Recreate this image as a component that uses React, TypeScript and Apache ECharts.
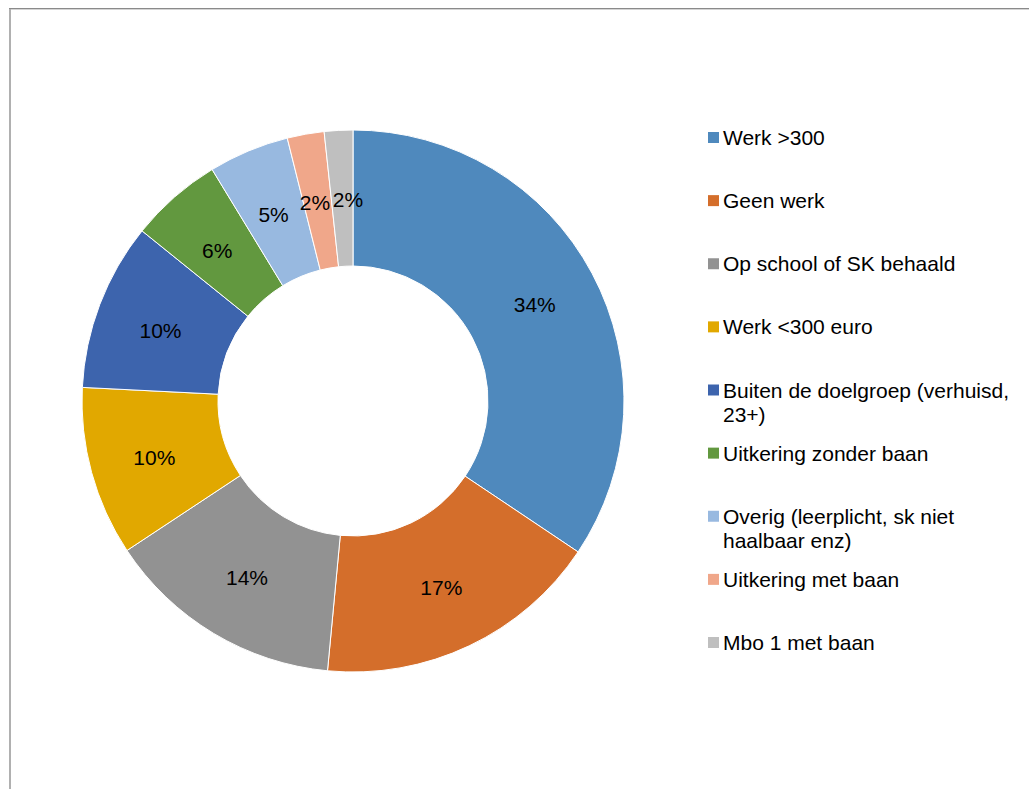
import React, { useEffect, useRef } from "react";
import * as echarts from "echarts";

const categories = [
  "Werk >300",
  "Geen werk",
  "Op school of SK behaald",
  "Werk <300 euro",
  "Buiten de doelgroep (verhuisd, 23+)",
  "Uitkering zonder baan",
  "Overig (leerplicht, sk niet haalbaar enz)",
  "Uitkering met baan",
  "Mbo 1 met baan",
];
const legendLabels = [
  "Werk >300",
  "Geen werk",
  "Op school of SK behaald",
  "Werk <300 euro",
  "Buiten de doelgroep (verhuisd,\n23+)",
  "Uitkering zonder baan",
  "Overig (leerplicht, sk niet\nhaalbaar enz)",
  "Uitkering met baan",
  "Mbo 1 met baan",
];
const values = [34.4, 17.1, 14.2, 10.1, 10.0, 5.5, 4.8, 2.2, 1.7];
const colors = [
  "#4F89BD",
  "#D46E2B",
  "#929292",
  "#E1A800",
  "#3D64AD",
  "#62983F",
  "#98B9E0",
  "#F0A78A",
  "#BFBFBF",
];
// small label nudges (px) so the two tiny slices' labels sit side by side
const labelOffsets = [
  [0, 0],
  [0, 0],
  [0, 0],
  [0, 2],
  [0, 3],
  [0, 4],
  [0, 4],
  [-2, 4],
  [6, 4],
];

const FONT = "Liberation Sans, Arial, sans-serif";

export default function App() {
  const ref = useRef<HTMLDivElement>(null);
  useEffect(() => {
    if (!ref.current) return;
    const chart = echarts.init(ref.current, null, { renderer: "svg" });
    const legendGraphics: any[] = [];
    const startY = 137.5;
    const step = 63.125;
    legendLabels.forEach((lab, i) => {
      const cy = startY + i * step;
      legendGraphics.push({
        type: "rect",
        shape: { x: 708, y: cy - 5.5, width: 11, height: 11 },
        style: { fill: colors[i] },
        silent: true,
      });
      legendGraphics.push({
        type: "text",
        x: 723,
        y: cy - 12,
        style: {
          text: lab,
          font: `21px ${FONT}`,
          fill: "#000",
          textVerticalAlign: "top",
          lineHeight: 24,
        },
        silent: true,
      });
    });
    chart.setOption({
      animation: false,
      backgroundColor: "#fff",
      graphic: [
        {
          type: "rect",
          shape: { x: 9, y: 8, width: 2, height: 781 },
          style: { fill: "#b0b0b0" },
          silent: true,
        },
        {
          type: "rect",
          shape: { x: 9, y: 8, width: 1020, height: 1 },
          style: { fill: "#8a8a8a" },
          silent: true,
        },
        {
          type: "rect",
          shape: { x: 11, y: 9, width: 1018, height: 1 },
          style: { fill: "#d4d4d4" },
          silent: true,
        },
        ...legendGraphics,
      ],
      series: [
        {
          type: "pie",
          center: [353, 401],
          radius: [135, 271],
          startAngle: 90,
          clockwise: true,
          avoidLabelOverlap: false,
          minShowLabelAngle: 0,
          labelLayout: { hideOverlap: false },
          itemStyle: { borderColor: "#fff", borderWidth: 1 },
          label: {
            show: true,
            position: "inside",
            color: "#000",
            fontSize: 21,
            fontFamily: FONT,
            formatter: (p: any) => `${Math.round(p.percent)}%`,
          },
          labelLine: { show: false },
          emphasis: { disabled: true },
          data: categories.map((c, i) => ({
            name: c,
            value: values[i],
            itemStyle: { color: colors[i] },
            label: { offset: labelOffsets[i] },
          })),
        },
      ],
    });
    return () => chart.dispose();
  }, []);
  return (
    <div
      ref={ref}
      style={{ position: "absolute", left: 0, top: 0, width: 1029, height: 789 }}
    />
  );
}
